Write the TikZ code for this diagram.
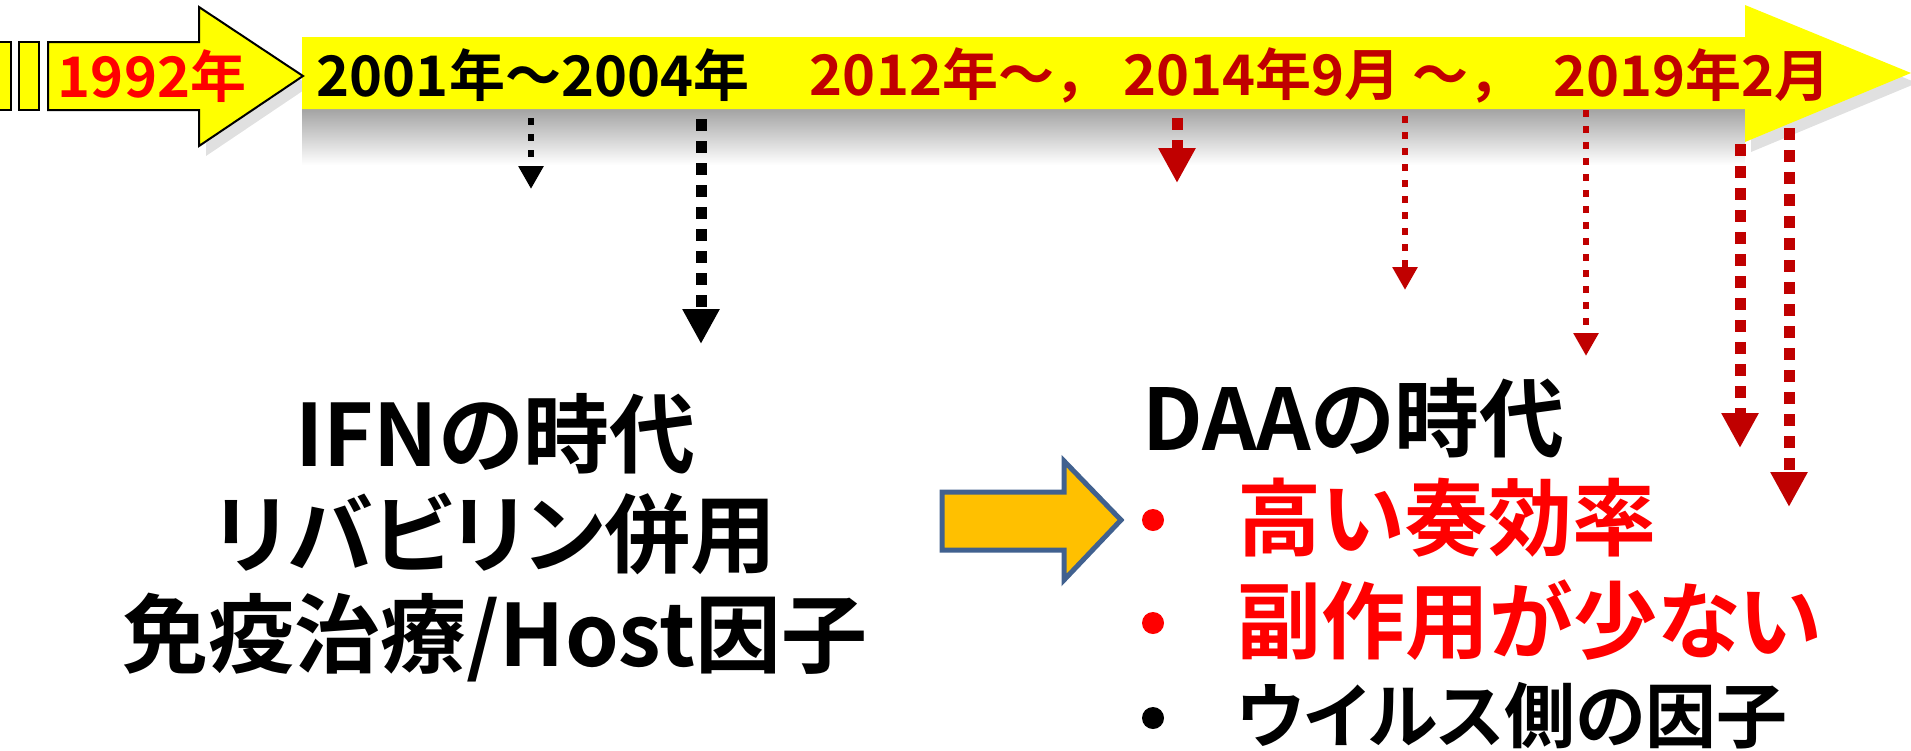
\documentclass[tikz,border=0pt]{standalone}
\usepackage{fontspec}
\setmainfont{Noto Sans CJK JP Bold}
\newfontfamily\jpp{Noto Sans CJK JP Bold}[RawFeature=+palt]
\usetikzlibrary{arrows.meta}
\definecolor{hcvyellow}{HTML}{FFFF00}
\definecolor{hcvdarkred}{HTML}{C00000}
\definecolor{hcvred}{HTML}{FF0000}
\definecolor{hcvorange}{HTML}{FFC000}
\definecolor{hcvblue}{HTML}{41618F}
\tikzset{
  datelabel/.style={font=\fontsize{28pt}{30pt}\selectfont, inner sep=0pt},
  thinhint/.style={line width=3pt, dash pattern=on 3.5pt off 4.5pt,
    -{Triangle[length=11.5pt,width=12pt]}},
  thickhint/.style={line width=5.5pt, dash pattern=on 6pt off 5pt,
    -{Triangle[length=17.5pt,width=17.5pt]}},
  bigtext/.style={font=\jpp\fontsize{43pt}{50pt}\selectfont, inner sep=0pt},
  bulletdot/.style={circle, minimum size=11pt, inner sep=0pt},
}
\begin{document}
\begin{tikzpicture}[x=0.5pt, y=-0.5pt]
  \useasboundingbox (0,0) rectangle (1911,750);
  % shadow below the timeline
  \shade[top color=black!36, bottom color=white] (302,109) rectangle (1745,165);
  \fill[black!35, opacity=0.35] (1751,15) -- (1917,83) -- (1751,152) -- cycle;
  \fill[black!35, opacity=0.35] (206,17) -- (310,86) -- (206,156) -- cycle;
  % timeline band
  \fill[hcvyellow] (302,37) -- (1745,37) -- (1745,5) -- (1911,73) -- (1745,142)
    -- (1745,109) -- (302,109) -- cycle;
  % 1992 arrow
  \draw[line width=1pt, fill=hcvyellow] (48,42) -- (199,42) -- (199,7) -- (303,76)
    -- (199,146) -- (199,110) -- (48,110) -- cycle;
  \draw[line width=1pt, fill=hcvyellow] (-5,42) rectangle (11,110);
  \draw[line width=1pt, fill=hcvyellow] (19,42) rectangle (39,110);
  % dates
  \node[datelabel, text=hcvred] (y1992) at (152,76) {1992年};
  \node[datelabel] (y2001) at (533,75) {2001年～2004年};
  \node[datelabel, text=hcvdarkred] (y2012) at (960,75) {2012年～，};
  \node[datelabel, text=hcvdarkred] (y2014) at (1324,75) {2014年9月 ～，};
  \node[datelabel, text=hcvdarkred] (y2019) at (1692,75) {2019年2月};
  % dotted hints
  \coordinate (s1) at (531,118);  \coordinate (e1) at (531,189);
  \coordinate (s2) at (701,119);  \coordinate (e2) at (701,344);
  \coordinate (s3) at (1177,118); \coordinate (e3) at (1177,183);
  \coordinate (s4) at (1405,116); \coordinate (e4) at (1405,290);
  \coordinate (s5) at (1586,110); \coordinate (e5) at (1586,356);
  \coordinate (s6) at (1740,144); \coordinate (e6) at (1740,448);
  \coordinate (s7) at (1789,128); \coordinate (e7) at (1789,507);
  \draw[thinhint] (s1) -- (e1);
  \draw[thickhint] (s2) -- (e2);
  \draw[thickhint, hcvdarkred] (s3) -- (e3);
  \draw[thinhint, hcvdarkred] (s4) -- (e4);
  \draw[thinhint, hcvdarkred] (s5) -- (e5);
  \draw[thickhint, hcvdarkred] (s6) -- (e6);
  \draw[thickhint, hcvdarkred] (s7) -- (e7);
  % IFN era
  \node[bigtext, align=center] (ifnera) at (495,538)
    {IFNの時代\\リバビリン併用\\免疫治療/Host因子};
  % orange arrow
  \draw[line width=2.5pt, draw=hcvblue, fill=hcvorange] (942,492) -- (1064,492)
    -- (1064,461) -- (1121,520) -- (1064,580) -- (1064,550) -- (942,550) -- cycle;
  % DAA era
  \node[bigtext, anchor=west, font=\jpp\fontsize{42.5pt}{46pt}\selectfont] (daa)
    at (1142,418) {DAAの時代};
  \node[bulletdot, fill=hcvred] (b1) at (1153,520) {};
  \node[bulletdot, fill=hcvred] (b2) at (1153,623) {};
  \node[bulletdot, fill=black] (b3) at (1153,718) {};
  \node[bigtext, anchor=west, text=hcvred, font=\jpp\fontsize{42pt}{46pt}\selectfont]
    (eff) at (1237,518) {高い奏効率};
  \node[bigtext, anchor=west, text=hcvred, font=\jpp\fontsize{42pt}{46pt}\selectfont]
    (side) at (1237,620) {副作用が少ない};
  \node[bigtext, anchor=west, font=\jpp\fontsize{35.5pt}{40pt}\selectfont] (virus)
    at (1237,716) {ウイルス側の因子};
\end{tikzpicture}
\end{document}
